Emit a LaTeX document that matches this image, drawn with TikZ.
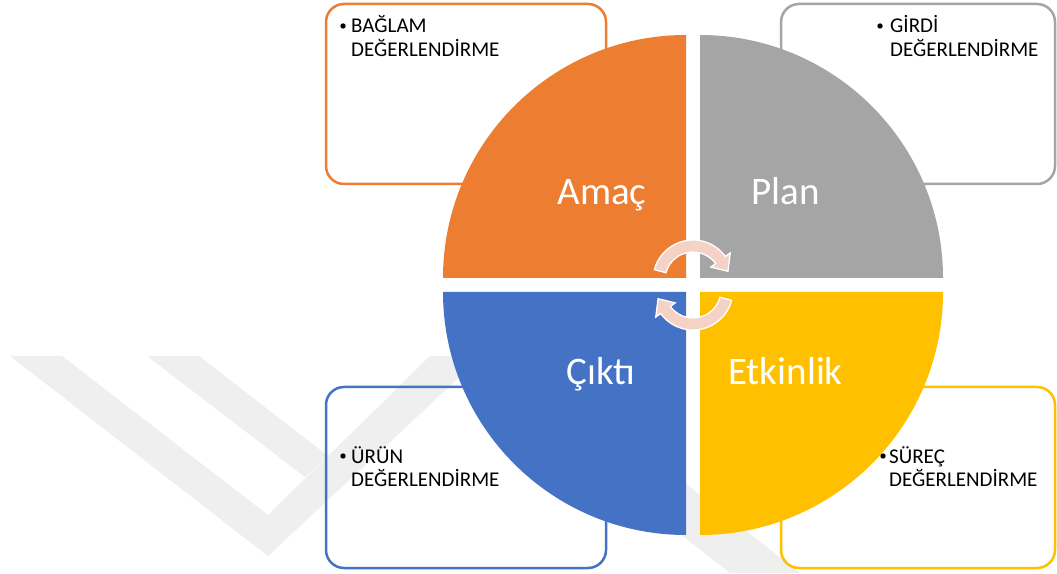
\documentclass[tikz,border=0pt]{standalone}
\usepackage{fontspec}
\setmainfont{Carlito}
\definecolor{amac}{HTML}{ED7D31}
\definecolor{plan}{HTML}{A5A5A5}
\definecolor{cikti}{HTML}{4472C4}
\definecolor{etkin}{HTML}{FFC000}
\definecolor{cyclefill}{HTML}{F5D2C6}
\definecolor{wmark}{HTML}{EFEFEF}
\begin{document}
\begin{tikzpicture}[x=1pt,y=1pt,
  evalbox/.style={draw=#1, line width=2.5pt, rounded corners=18pt},
  itemtext/.style={anchor=base west, inner sep=0pt, font=\fontsize{21}{23}\selectfont, text=black},
  phase/.style={anchor=base, inner sep=0pt, font=\fontsize{39}{45}\selectfont, text=white},
  cyclearrow/.style={fill=cyclefill, draw=white, line width=1.3pt, line join=miter}
]
\useasboundingbox (0,0) rectangle (1057,573);
\fill[white] (0,0) rectangle (1057,573);

% faint watermark strokes in the background
\begin{scope}[wmark]
  \fill (10,217) -- (268,17) -- (482,217) -- (430,217) -- (268,58) -- (62,217) -- cycle;
  \fill (147,217) -- (199,217) -- (328,117) -- (305,96) -- cycle;
  \fill (560,133) -- (630,133) -- (800,0) -- (730,0) -- cycle;
\end{scope}

% evaluation boxes behind the circle
\draw[evalbox=amac]  (326,389) rectangle (606,569);
\draw[evalbox=plan]  (781,389) rectangle (1055,569);
\draw[evalbox=cikti] (326,5)   rectangle (606,186);
\draw[evalbox=etkin] (781,5)   rectangle (1055,186);

% bulleted texts
\fill (343,547) circle (2.7);
\node[itemtext] (baglam1) at (351,540) {BAĞLAM};
\node[itemtext] (baglam2) at (351,516) {DEĞERLENDİRME};
\fill (880,547) circle (2.7);
\node[itemtext] (girdi1) at (890,540) {GİRDİ};
\node[itemtext] (girdi2) at (890,516) {DEĞERLENDİRME};
\fill (343,117) circle (2.7);
\node[itemtext] (urun1) at (351,110) {ÜRÜN};
\node[itemtext] (urun2) at (351,87) {DEĞERLENDİRME};
\fill (883,117) circle (2.7);
\node[itemtext] (surec1) at (889,110) {SÜREÇ};
\node[itemtext] (surec2) at (889,87) {DEĞERLENDİRME};

% four quarter discs
\fill[amac]  (686,295) -- ++(-243,0) arc[start angle=180,end angle=90,radius=243] -- cycle;
\fill[plan]  (700,295) -- ++(0,243) arc[start angle=90,end angle=0,radius=243] -- cycle;
\fill[cikti] (686,281) -- ++(-243,0) arc[start angle=180,end angle=270,radius=243] -- cycle;
\fill[etkin] (700,281) -- ++(0,-243) arc[start angle=270,end angle=360,radius=243] -- cycle;

% phase labels
\node[phase] (amacL)  at (602,368)   {Amaç};
\node[phase] (planL)  at (785.5,368) {Plan};
\node[phase] (ciktiL) at (601,188)   {Çıktı};
\node[phase] (etkinL) at (785.5,188) {Etkinlik};

% cycle arrows at the centre
\begin{scope}[shift={(693,293)}]
  \filldraw[cyclearrow] (165:40) arc[start angle=165,end angle=36,radius=40]
    -- (36:46) -- (14:36) -- (36:22) -- (36:28)
    arc[start angle=36,end angle=165,radius=28] -- cycle;
\end{scope}
\begin{scope}[shift={(693,283)}]
  \filldraw[cyclearrow] (345:40) arc[start angle=345,end angle=216,radius=40]
    -- (216:46) -- (194:36) -- (216:22) -- (216:28)
    arc[start angle=216,end angle=345,radius=28] -- cycle;
\end{scope}
\end{tikzpicture}
\end{document}
